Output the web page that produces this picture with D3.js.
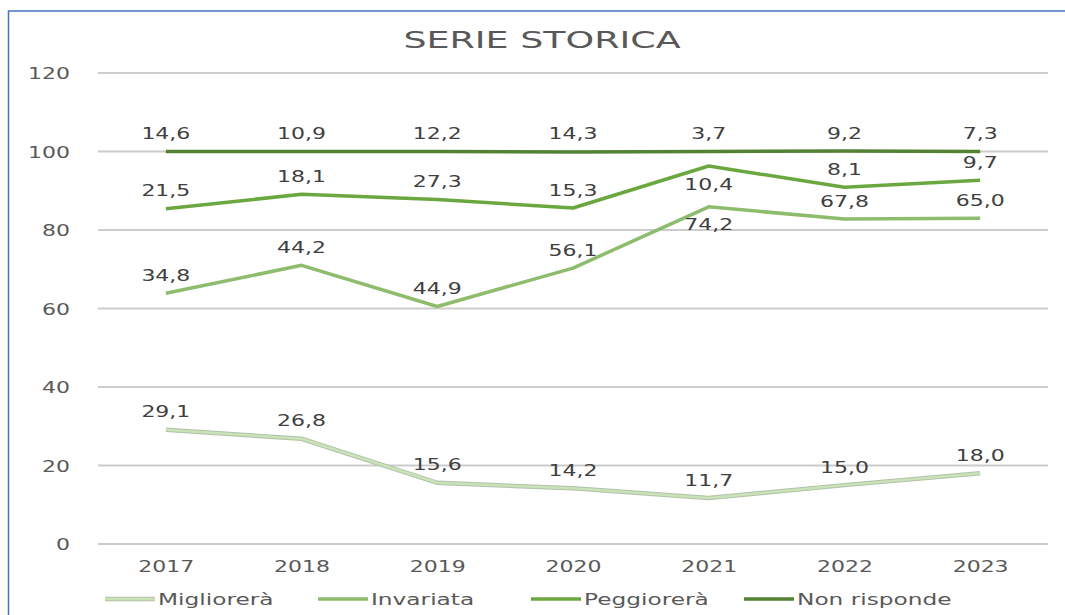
<!DOCTYPE html>
<html>
<head>
<meta charset="utf-8">
<script src="https://cdn.jsdelivr.net/npm/d3@7"></script>
<style>
  body { margin: 0; background: #fff; }
  text { font-family: "DejaVu Sans", sans-serif; }
</style>
</head>
<body>
<script>
// dati (quote percentuali per anno)
const years = ["2017", "2018", "2019", "2020", "2021", "2022", "2023"];
const migliorera = [29.1, 26.8, 15.6, 14.2, 11.7, 15.0, 18.0];
const invariata = [34.8, 44.2, 44.9, 56.1, 74.2, 67.8, 65.0];
const peggiorera = [21.5, 18.1, 27.3, 15.3, 10.4, 8.1, 9.7];
const nonRisponde = [14.6, 10.9, 12.2, 14.3, 3.7, 9.2, 7.3];
const seriesNames = ["Migliorerà", "Invariata", "Peggiorerà", "Non risponde"];
const yTicks = [0, 20, 40, 60, 80, 100, 120];

const colors = ["#c9e2b8", "#8dbd6c", "#6aa83f", "#548235"];
// etichette messe sotto la linea invece che sopra
const labelsBelow = { "Invariata": ["2021"], "Peggiorerà": ["2021"] };

const width = 1065, height = 615;
const SX = 1.42; // il testo nell'originale e' allargato in orizzontale

const svg = d3.select("body").append("svg")
  .attr("width", width)
  .attr("height", height);

svg.append("rect")
  .attr("x", 8.5).attr("y", 11)
  .attr("width", 1200).attr("height", 800)
  .attr("fill", "none")
  .attr("stroke", "#4472c4")
  .attr("stroke-width", 1.5);

const x = d3.scalePoint().domain(years).range([98, 1048]).padding(0.5);
const y = d3.scaleLinear().domain([0, 120]).range([544, 73]);

const it = d3.formatLocale({ decimal: ",", thousands: ".", grouping: [3], currency: ["", "€"] });
const fmt = it.format(".1f");

// titolo
svg.append("text")
  .attr("transform", `translate(542,48) scale(1.55,1)`)
  .attr("text-anchor", "middle")
  .attr("font-size", 23.5)
  .attr("fill", "#595959")
  .text("SERIE STORICA");

// griglia
svg.append("g")
  .selectAll("line")
  .data(yTicks)
  .join("line")
  .attr("x1", 98).attr("x2", 1048)
  .attr("y1", d => y(d)).attr("y2", d => y(d))
  .attr("stroke", "#cccccc")
  .attr("stroke-width", 2);

// asse y
const yAxis = svg.append("g")
  .attr("transform", "translate(98,0)")
  .call(d3.axisLeft(y).tickValues(yTicks).tickSize(0));
yAxis.select(".domain").remove();
yAxis.selectAll("text")
  .attr("x", 0).attr("dy", "0.36em")
  .attr("transform", `translate(-28,0) scale(${SX},1)`)
  .attr("font-family", "DejaVu Sans")
  .attr("font-size", 15.5)
  .attr("fill", "#595959");

// asse x
const xAxis = svg.append("g")
  .attr("transform", "translate(0,544)")
  .call(d3.axisBottom(x).tickSize(0));
xAxis.select(".domain").remove();
xAxis.selectAll("text")
  .attr("y", 0).attr("dy", "0.36em")
  .attr("transform", `translate(0,22.5) scale(${SX},1)`)
  .attr("font-family", "DejaVu Sans")
  .attr("font-size", 15.5)
  .attr("fill", "#595959");

// dati impilati
const rows = years.map((yr, i) => ({
  year: yr,
  "Migliorerà": migliorera[i],
  "Invariata": invariata[i],
  "Peggiorerà": peggiorera[i],
  "Non risponde": nonRisponde[i]
}));
const stacked = d3.stack().keys(seriesNames)(rows);

const line = d3.line()
  .x(d => x(d.data.year))
  .y(d => y(d[1]));

const series = svg.append("g")
  .selectAll("g")
  .data(stacked)
  .join("g");

// bordo grigio per la serie piu' chiara
series.filter(s => s.index === 0)
  .append("path")
  .attr("d", line)
  .attr("fill", "none")
  .attr("stroke", "#b3c2a9")
  .attr("stroke-width", 4.5);

series.append("path")
  .attr("d", line)
  .attr("fill", "none")
  .attr("stroke", s => colors[s.index])
  .attr("stroke-width", s => s.index === 0 ? 2.5 : 3.5)
  .attr("stroke-linejoin", "round");

series.selectAll("text")
  .data(s => s.map(d => ({ key: s.key, year: d.data.year, v: d.data[s.key], top: d[1] })))
  .join("text")
  .attr("transform", d => {
    const below = (labelsBelow[d.key] || []).includes(d.year);
    return `translate(${x(d.year)},${y(d.top) + (below ? 18 : -18)}) scale(${SX},1)`;
  })
  .attr("dy", "0.36em")
  .attr("text-anchor", "middle")
  .attr("font-size", 15.5)
  .attr("fill", "#404040")
  .text(d => fmt(d.v));

// legenda
const legend = svg.append("g")
  .selectAll("g")
  .data(seriesNames)
  .join("g")
  .attr("transform", (d, i) => `translate(${105 + i * 213},599)`);

legend.append("line")
  .attr("x1", 0).attr("x2", 50)
  .attr("stroke", (d, i) => i === 0 ? "#b3c2a9" : colors[i])
  .attr("stroke-width", (d, i) => i === 0 ? 4.5 : 3.5);
legend.filter((d, i) => i === 0).append("line")
  .attr("x1", 0).attr("x2", 50)
  .attr("stroke", colors[0])
  .attr("stroke-width", 2.5);

legend.append("text")
  .attr("transform", `translate(53,0) scale(1.5,1)`)
  .attr("dy", "0.36em")
  .attr("font-size", 15.5)
  .attr("fill", "#595959")
  .text(d => d);
</script>
</body>
</html>
